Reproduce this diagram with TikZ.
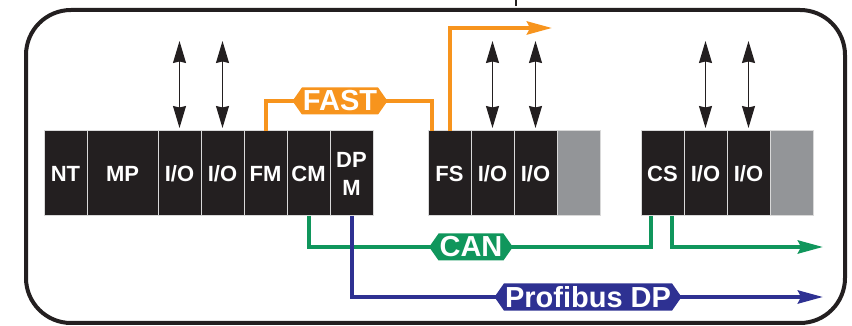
\documentclass[tikz,border=0pt]{standalone}
\usepackage{fontspec}
\setmainfont{Liberation Sans}
\usepackage{xcolor}
\usetikzlibrary{arrows.meta, positioning, shapes.symbols}

\definecolor{modblack}{RGB}{35,31,32}
\definecolor{modgray}{RGB}{147,149,152}
\definecolor{fastorange}{RGB}{247,148,29}
\definecolor{cangreen}{RGB}{16,150,92}
\definecolor{dpblue}{RGB}{46,49,146}

\begin{document}
\begin{tikzpicture}[
  x=1pt, y=1pt,
  module/.style  ={rectangle, draw=black!15, line width=1pt, fill=modblack, text=white, align=center,
                   minimum width=43pt, minimum height=85pt, inner sep=0pt, outer sep=0pt,
                   font=\fontsize{22}{28}\selectfont\bfseries},
  spare/.style   ={module, fill=modgray},
  buslabel/.style={signal, signal to=west and east, signal pointer angle=110, text=white,
                   minimum height=27pt, inner xsep=1pt, inner ysep=3pt,
                   font=\fontsize{29}{30}\selectfont\bfseries},
  ioarrow/.style ={{Stealth[length=22pt, width=13pt, inset=1.5pt]}-{Stealth[length=22pt, width=13pt, inset=1.5pt]},
                   line width=1.2pt, modblack},
  fastline/.style={line width=4pt, fastorange},
  canline/.style ={line width=4pt, cangreen},
  dpline/.style  ={line width=4pt, dpblue},
  bustip/.style  ={-{Stealth[length=25pt, width=13pt, inset=3pt]}}
  ]

  \useasboundingbox (0,0) rectangle (852,326);
  \draw[line width=4pt, modblack, rounded corners=45pt] (26,3) rectangle (845,316);
  \coordinate (tick) at (516,326);
  \draw[line width=1.5pt, modblack] (tick) -- ++(0,-6);

  % main rack
  \node[module] (nt) at (65.5,152.5) {NT};
  \node[module, minimum width=71pt, right=0pt of nt] (mp) {MP};
  \node[module, right=0pt of mp]  (io1) {I/O};
  \node[module, right=0pt of io1] (io2) {I/O};
  \node[module, right=0pt of io2] (fm)  {FM};
  \node[module, right=0pt of fm]  (cm)  {CM};
  \node[module, right=0pt of cm]  (dpm) {DP\\M};

  % FAST station
  \node[module, right=55pt of dpm] (fs)  {FS};
  \node[module, right=0pt of fs]   (io3) {I/O};
  \node[module, right=0pt of io3]  (io4) {I/O};
  \node[spare,  right=0pt of io4]  (sp1) {};

  % CAN station
  \node[module, right=41pt of sp1] (cs)  {CS};
  \node[module, right=0pt of cs]   (io5) {I/O};
  \node[module, right=0pt of io5]  (io6) {I/O};
  \node[spare,  right=0pt of io6]  (sp2) {};

  \foreach \m in {io1,io2,io3,io4,io5,io6}
    \draw[ioarrow] ([yshift=3pt]\m.north) -- ([yshift=90pt]\m.north);

  \coordinate (fastend) at (552,298);
  \coordinate (canend)  at (823,79);
  \coordinate (dpend)   at (823,29);

  \draw[fastline] (fm.north) -- ++(0,30) -| ([xshift=4pt]fs.north west);
  \draw[fastline, bustip] (fs.north) |- (fastend);
  \draw[canline] (cm.south) -- ++(0,-31) -| ([xshift=10pt]cs.south west);
  \draw[canline, bustip] ([xshift=-12pt]cs.south east) |- (canend);
  \draw[dpline, bustip] (dpm.south) |- (dpend);

  \node[buslabel, fill=fastorange] (fastlbl) at (340,225) {FAST};
  \node[buslabel, fill=cangreen]   (canlbl)  at (471,79)  {CAN};
  \node[buslabel, fill=dpblue]     (dplbl)   at (588,29)  {Profibus DP};

\end{tikzpicture}
\end{document}
